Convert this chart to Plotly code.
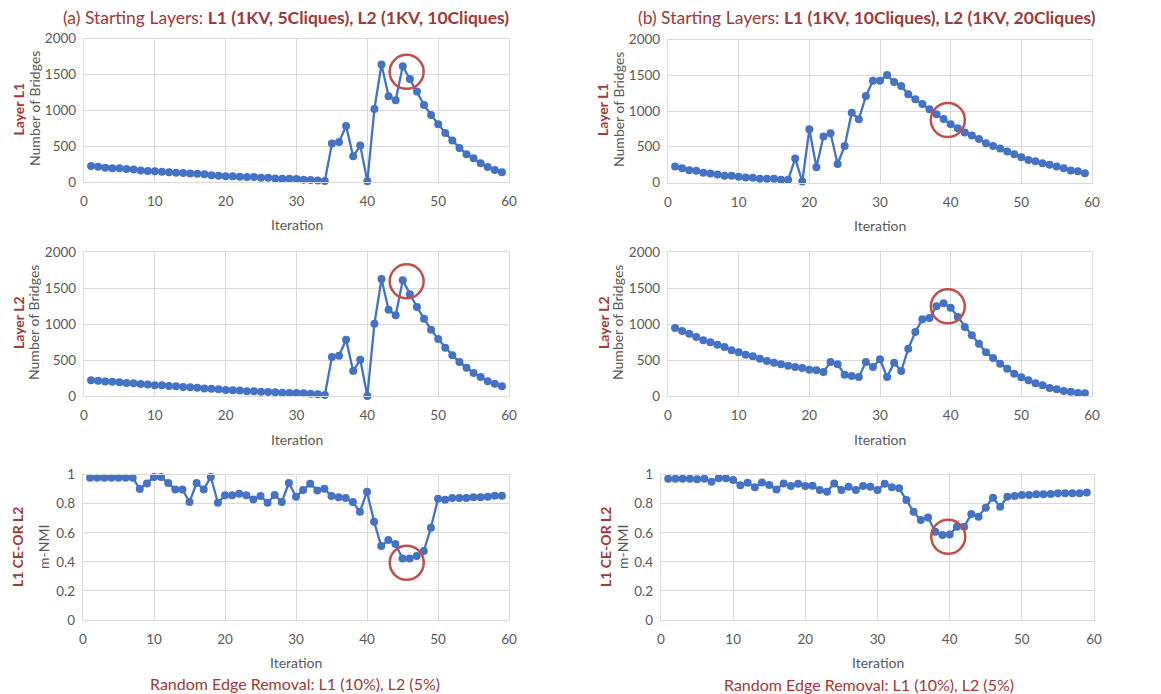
import plotly.graph_objects as go

iterations = list(range(1, 60))

a_l1 = [223, 214, 200, 192, 190, 181, 174, 160, 152, 150, 142, 137, 128, 126, 118, 116, 107, 95,
        88, 80, 79, 74, 70, 68, 60, 58, 48, 47, 46, 42, 33, 28, 20, 14, 535, 558, 781, 358, 507, 9,
        1019, 1637, 1195, 1140, 1614, 1437, 1260, 1074, 935, 805, 684, 577, 474, 386, 330, 260, 209, 167, 135]
a_l2 = [218, 212, 202, 198, 190, 180, 178, 165, 160, 150, 148, 140, 135, 125, 122, 115, 105, 100,
        95, 85, 80, 75, 65, 65, 58, 55, 52, 45, 43, 40, 38, 30, 25, 15, 542, 560, 782, 347, 505, 0,
        1005, 1625, 1199, 1120, 1606, 1412, 1236, 1074, 921, 792, 671, 565, 472, 394, 319, 264, 204, 171, 134]
a_nmi = [0.979, 0.979, 0.979, 0.979, 0.979, 0.979, 0.979, 0.901, 0.940, 0.984, 0.984, 0.943, 0.899,
         0.899, 0.812, 0.943, 0.899, 0.984, 0.807, 0.858, 0.858, 0.869, 0.858, 0.830, 0.853, 0.807,
         0.860, 0.812, 0.943, 0.849, 0.894, 0.938, 0.892, 0.904, 0.853, 0.844, 0.839, 0.812, 0.745,
         0.883, 0.677, 0.509, 0.550, 0.523, 0.424, 0.424, 0.440, 0.475, 0.635, 0.835, 0.828, 0.839,
         0.839, 0.839, 0.844, 0.844, 0.849, 0.855, 0.855]
b_l1 = [223, 200, 172, 163, 135, 126, 112, 93, 93, 79, 70, 65, 51, 51, 51, 37, 37, 335, 14, 744,
        214, 642, 688, 260, 512, 977, 884, 1209, 1423, 1423, 1502, 1405, 1349, 1233, 1163, 1098,
        1023, 953, 888, 814, 758, 698, 656, 609, 549, 512, 474, 433, 395, 353, 316, 298, 270, 247,
        223, 200, 167, 158, 130]
b_l2 = [944, 903, 866, 819, 773, 745, 713, 681, 634, 606, 574, 551, 519, 486, 463, 440, 421, 403,
        389, 366, 356, 333, 472, 440, 296, 278, 264, 472, 403, 509, 264, 463, 347, 657, 889, 1065,
        1083, 1245, 1287, 1227, 1097, 958, 843, 727, 606, 528, 449, 380, 310, 259, 218, 176, 148,
        111, 93, 69, 60, 42, 37]
b_nmi = [0.972, 0.972, 0.972, 0.972, 0.968, 0.972, 0.952, 0.975, 0.975, 0.963, 0.927, 0.945, 0.913,
         0.947, 0.929, 0.899, 0.940, 0.922, 0.938, 0.922, 0.924, 0.894, 0.883, 0.940, 0.894, 0.917,
         0.894, 0.922, 0.917, 0.894, 0.938, 0.913, 0.906, 0.826, 0.745, 0.688, 0.706, 0.608, 0.585,
         0.589, 0.642, 0.642, 0.729, 0.711, 0.773, 0.842, 0.780, 0.849, 0.853, 0.860, 0.860, 0.865,
         0.865, 0.867, 0.872, 0.872, 0.872, 0.872, 0.878]

# highlighted points (circle centres) per panel: (x, y)
circle_a_l1 = (45.55, 1535)
circle_a_l2 = (45.55, 1593)
circle_a_nmi = (45.6, 0.394)
circle_b_l1 = (39.6, 874)
circle_b_l2 = (39.6, 1245)
circle_b_nmi = (39.8, 0.573)

panel_titles = [
    "(a) Starting Layers: <b>L1 (1KV, 5Cliques), L2 (1KV, 10Cliques)</b>",
    "(b) Starting Layers: <b>L1 (1KV, 10Cliques), L2 (1KV, 20Cliques)</b>",
]
caption = "Random Edge Removal: L1 (10%), L2 (5%)"

W, H = 1161, 694
OFF = 8  # page body margin offset
RED = "#9E3A38"
BLUE = "#4472C4"
GRAY = "#595959"
GRID = "#D9D9D9"
FONT = "Lato"

def px(x):
    return (x - OFF) / W

def py(y):
    return 1 - (y - OFF) / H

# plot rectangles in screen pixels (left, right, top, bottom)
rects = {
    1: (84, 509, 38.5, 182),
    2: (668, 1092, 39.5, 182.5),
    3: (84, 509, 252, 396),
    4: (668, 1092, 252, 396),
    5: (83, 509, 474.7, 620),
    6: (661, 1094, 474.7, 620),
}

series = {1: a_l1, 2: b_l1, 3: a_l2, 4: b_l2, 5: a_nmi, 6: b_nmi}
circles = {1: circle_a_l1, 2: circle_b_l1, 3: circle_a_l2, 4: circle_b_l2,
           5: circle_a_nmi, 6: circle_b_nmi}

fig = go.Figure()
layout = dict(
    width=W, height=H, margin=dict(l=0, r=0, t=0, b=0, pad=0, autoexpand=False),
    paper_bgcolor="white", plot_bgcolor="white", showlegend=False,
    font=dict(family=FONT, color=GRAY, size=13),
)
shapes = []
for i in range(1, 7):
    l, r, t, b = rects[i]
    xa = "xaxis" if i == 1 else f"xaxis{i}"
    ya = "yaxis" if i == 1 else f"yaxis{i}"
    xr = "x" if i == 1 else f"x{i}"
    yr = "y" if i == 1 else f"y{i}"
    nmi = i >= 5
    layout[xa] = dict(domain=[px(l), px(r)], anchor=yr, range=[0, 60], dtick=10,
                      showgrid=True, gridcolor=GRID, gridwidth=1.3, zeroline=False,
                      showline=True, linecolor=GRID, linewidth=1.3, mirror=True,
                      automargin=False, ticks="", ticklabelstandoff=7,
                      tickfont=dict(size=13.5, color=GRAY, family=FONT))
    layout[ya] = dict(domain=[py(b), py(t)], anchor=xr,
                      range=[0, 1] if nmi else [0, 2000], dtick=0.2 if nmi else 500,
                      showgrid=True, gridcolor=GRID, gridwidth=1.3, zeroline=False,
                      showline=True, linecolor=GRID, linewidth=1.3, mirror=True,
                      automargin=False, ticks="", ticklabelstandoff=4,
                      tickfont=dict(size=13.5, color=GRAY, family=FONT))
    fig.add_trace(go.Scatter(x=iterations, y=series[i], mode="lines+markers",
                             line=dict(color=BLUE, width=2.3),
                             marker=dict(color=BLUE, size=8),
                             cliponaxis=False, xaxis=xr, yaxis=yr))
    cx, cy = circles[i]
    shapes.append(dict(type="circle", xref=xr, yref=yr, xsizemode="pixel", ysizemode="pixel",
                       xanchor=cx, yanchor=cy, x0=-17, x1=17, y0=-17, y1=17,
                       line=dict(color="#C0504D", width=2.5)))

layout["shapes"] = shapes

ann = []
def add_text(text, x, y, size, color, angle=0):
    ann.append(dict(text=text, x=px(x), y=py(y), xref="paper", yref="paper",
                    xanchor="center", yanchor="middle", showarrow=False, textangle=angle,
                    font=dict(size=size, color=color, family=FONT)))

# panel titles
add_text(panel_titles[0], 286, 17.5, 17.5, RED)
add_text(panel_titles[1], 867, 17.5, 17.5, RED)
# captions
add_text(caption, 295, 683, 16, RED)
add_text(caption, 869, 684, 16, RED)
# x axis titles
for (x, y) in [(297, 224), (880, 225), (297, 439), (880, 439), (296, 662), (878, 662)]:
    add_text("Iteration", x, y, 14, GRAY)
# y axis titles
ytitles = [
    ("Layer L1", "Number of Bridges", 17.5, 34, 109),
    ("Layer L1", "Number of Bridges", 602, 618, 110),
    ("Layer L2", "Number of Bridges", 18, 33, 323),
    ("Layer L2", "Number of Bridges", 603, 617, 323),
    ("L1 CE-OR L2", "m-NMI", 17, 43, 547),
    ("L1 CE-OR L2", "m-NMI", 605, 622, 547),
]
for top, sub, x1, x2, yc in ytitles:
    add_text(f"<b>{top}</b>", x1, yc, 14, RED, -90)
    add_text(sub, x2, yc, 14, GRAY, -90)

layout["annotations"] = ann
fig.update_layout(**layout)
fig.write_html("out.html")
